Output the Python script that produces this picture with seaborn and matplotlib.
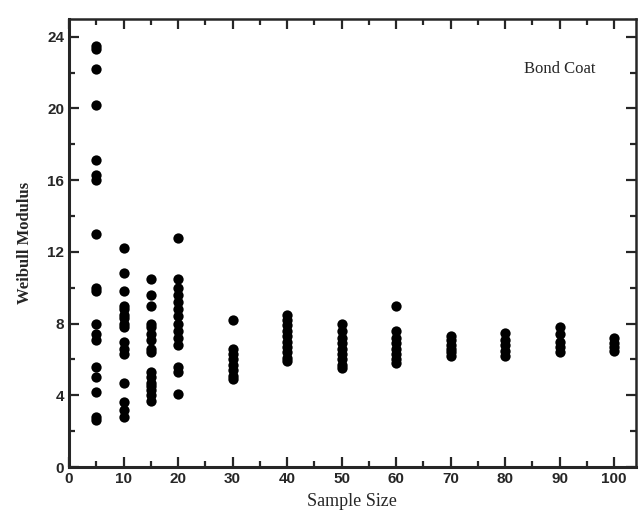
import numpy as np
import pandas as pd
import matplotlib
matplotlib.use('Agg')
import matplotlib.pyplot as plt
import seaborn as sns
from matplotlib.ticker import MultipleLocator

# Weibull modulus values per sample size
n5 = [23.5, 23.3, 22.2, 20.2, 17.1, 16.3, 16.0, 13.0, 10.0, 9.8, 8.0, 7.4, 7.1, 5.6, 5.0, 4.2, 2.8, 2.6]
n10 = [12.2, 10.8, 9.8, 9.0, 8.8, 8.5, 8.3, 8.0, 7.8, 7.0, 6.6, 6.3, 4.7, 3.6, 3.2, 2.8]
n15 = [10.5, 9.6, 9.0, 8.0, 7.8, 7.4, 7.1, 6.6, 6.4, 5.3, 5.0, 4.7, 4.5, 4.3, 4.0, 3.7]
n20 = [12.8, 10.5, 10.0, 9.6, 9.2, 8.8, 8.4, 8.0, 7.6, 7.2, 6.8, 5.6, 5.3, 4.1]
n30 = [8.2, 6.6, 6.3, 6.0, 5.7, 5.4, 5.1, 4.9]
n40 = [8.5, 8.2, 7.9, 7.6, 7.3, 7.0, 6.7, 6.4, 6.1, 5.9]
n50 = [8.0, 7.6, 7.2, 6.9, 6.6, 6.3, 6.0, 5.7, 5.5]
n60 = [9.0, 7.6, 7.2, 6.9, 6.6, 6.3, 6.0, 5.8]
n70 = [7.3, 7.1, 6.8, 6.6, 6.4, 6.2]
n80 = [7.5, 7.1, 6.8, 6.5, 6.2]
n90 = [7.8, 7.4, 7.0, 6.7, 6.4]
n100 = [7.2, 6.9, 6.7, 6.5]

sizes = [5, 10, 15, 20, 30, 40, 50, 60, 70, 80, 90, 100]
groups = [n5, n10, n15, n20, n30, n40, n50, n60, n70, n80, n90, n100]

rows = []
for s, vals in zip(sizes, groups):
    for v in vals:
        rows.append({'Sample Size': s, 'Weibull Modulus': v})
df = pd.DataFrame(rows)

sns.set_style('ticks')

fig = plt.figure(figsize=(6.39, 5.23), dpi=100)
ax = fig.add_axes([0.108, 0.107, 0.887, 0.857])

sns.scatterplot(data=df, x='Sample Size', y='Weibull Modulus', ax=ax,
                color='black', s=55, edgecolor='black', linewidth=0, legend=False)

ax.set_xlim(0, 104)
ax.set_ylim(0, 25)
ax.xaxis.set_major_locator(MultipleLocator(10))
ax.xaxis.set_minor_locator(MultipleLocator(5))
ax.yaxis.set_major_locator(MultipleLocator(4))
ax.yaxis.set_minor_locator(MultipleLocator(2))
ax.tick_params(which='both', direction='in', top=True, right=True, width=1.6)
ax.tick_params(which='major', length=7)
ax.tick_params(which='minor', length=4)
for sp in ax.spines.values():
    sp.set_linewidth(1.8)
    sp.set_visible(True)
ax.spines['left'].set_linewidth(2.2)
ax.spines['bottom'].set_linewidth(2.2)

for lab in ax.get_xticklabels() + ax.get_yticklabels():
    lab.set_family('Liberation Sans')
    lab.set_fontweight('bold')
    lab.set_fontsize(11)

ax.set_xlabel('Sample Size', family='Liberation Serif', fontsize=13, labelpad=5)
ax.set_ylabel('Weibull Modulus', family='Liberation Serif', fontsize=12,
              fontweight='bold', labelpad=10)
ax.text(90, 22.2, 'Bond Coat', family='Liberation Serif', fontsize=12,
        ha='center', va='center')

fig.savefig('out.png', dpi=100)
